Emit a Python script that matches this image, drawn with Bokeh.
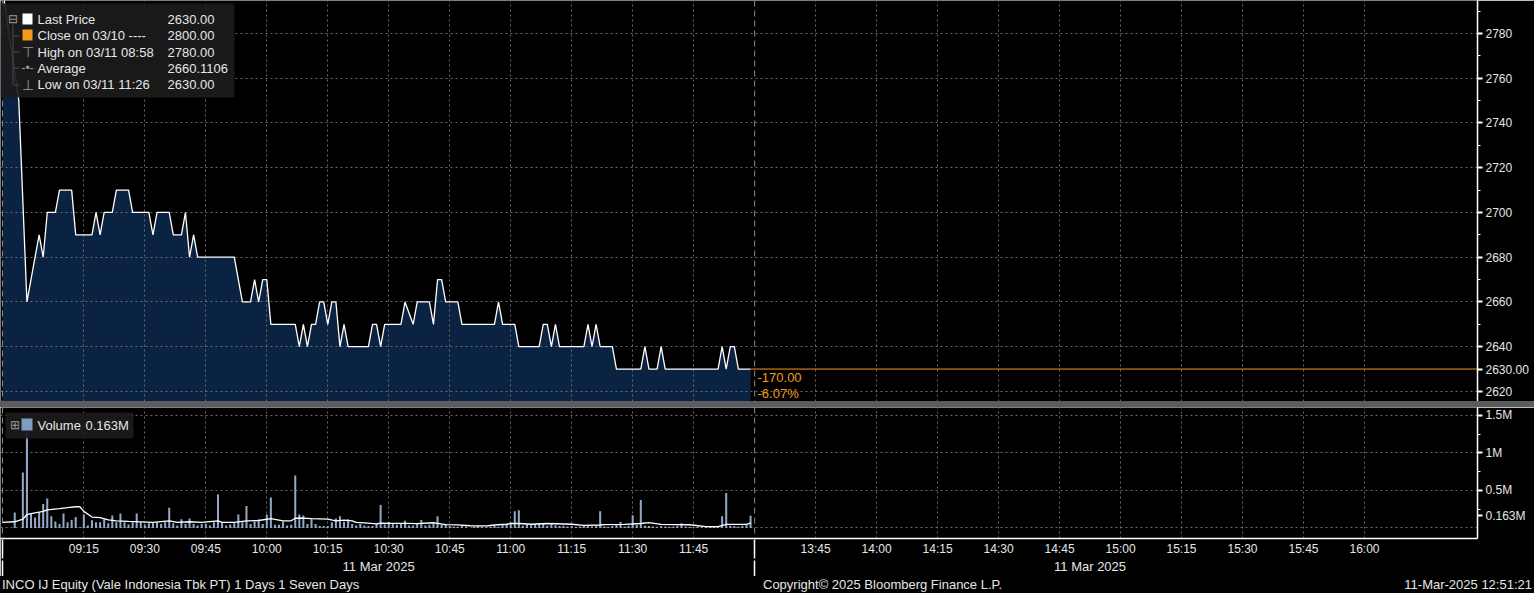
from bokeh.plotting import figure
from bokeh.models import Range1d, FixedTicker, Label, BoxAnnotation, Span, Div, LinearAxis
from bokeh.layouts import column
from bokeh.embed import file_html
from bokeh.resources import INLINE

FONT = "Liberation Sans"

# ---------------- data ----------------
PRICE_TIMES = ["08:55", "08:59", "09:01", "09:02", "09:03", "09:04", "09:05", "09:06", "09:08", "09:09",
               "09:12", "09:13", "09:17", "09:18", "09:19", "09:20", "09:22", "09:23", "09:26", "09:27",
               "09:31", "09:32", "09:33", "09:36", "09:37", "09:39", "09:40", "09:41", "09:42", "09:43",
               "09:52", "09:53", "09:54", "09:56", "09:57", "09:58", "09:59", "10:00", "10:01", "10:07",
               "10:08", "10:09", "10:10", "10:11", "10:12", "10:13", "10:14", "10:15", "10:16", "10:17",
               "10:18", "10:19", "10:20", "10:25", "10:26", "10:27", "10:28", "10:29", "10:33", "10:34",
               "10:36", "10:37", "10:40", "10:41", "10:42", "10:43", "10:44", "10:47", "10:48", "10:56",
               "10:57", "10:58", "11:01", "11:02", "11:07", "11:08", "11:09", "11:10", "11:11", "11:12",
               "11:18", "11:19", "11:20", "11:21", "11:22", "11:25", "11:26", "11:32", "11:33", "11:34",
               "11:36", "11:37", "11:38", "11:51", "11:52", "11:53", "11:54", "11:55", "11:56", "11:59"]
PRICE_VALUES = [2800, 2750, 2660, 2670, 2680, 2690, 2680, 2700, 2700, 2710,
                2710, 2690, 2690, 2700, 2690, 2700, 2700, 2710, 2710, 2700,
                2700, 2690, 2700, 2700, 2690, 2690, 2700, 2680, 2690, 2680,
                2680, 2670, 2660, 2660, 2670, 2660, 2670, 2670, 2650, 2650,
                2640, 2650, 2640, 2650, 2650, 2660, 2660, 2650, 2660, 2660,
                2640, 2650, 2640, 2640, 2650, 2650, 2640, 2650, 2650, 2660,
                2650, 2660, 2660, 2650, 2670, 2670, 2660, 2660, 2650, 2650,
                2660, 2650, 2650, 2640, 2640, 2650, 2650, 2640, 2650, 2640,
                2640, 2650, 2640, 2650, 2640, 2640, 2630, 2630, 2640, 2630,
                2630, 2640, 2630, 2630, 2640, 2630, 2640, 2640, 2630, 2630]

VOLUME_FIRST_MINUTE = "08:58"
VOLUME_K = [205, 0, 740, 1420, 190, 140, 210, 318, 392, 158,
            88, 54, 192, 75, 108, 146, 10, 180, 33, 104,
            75, 75, 117, 63, 167, 75, 192, 75, 46, 75,
            192, 75, 46, 63, 75, 75, 54, 75, 270, 63,
            33, 117, 54, 125, 54, 33, 54, 54, 33, 75,
            445, 75, 33, 46, 63, 180, 75, 293, 54, 85,
            112, 54, 179, 407, 42, 42, 83, 33, 42, 698,
            179, 165, 54, 117, 54, 25, 25, 25, 75, 125,
            158, 83, 117, 54, 33, 54, 33, 25, 25, 54,
            306, 45, 80, 54, 42, 54, 95, 33, 33, 54,
            107, 33, 42, 54, 158, 42, 52, 25, 20, 15,
            25, 20, 0, 15, 25, 20, 15, 20, 25, 15,
            38, 54, 74, 222, 235, 30, 51, 35, 51, 60,
            60, 30, 51, 38, 25, 30, 20, 25, 15, 20,
            25, 30, 20, 25, 222, 20, 15, 25, 51, 81,
            20, 30, 171, 40, 372, 30, 25, 20, 15, 25,
            20, 15, 20, 25, 64, 20, 15, 10, 15, 10,
            15, 20, 15, 25, 158, 466, 30, 25, 20, 30,
            35, 163]

MA_TIMES = ["08:55", "08:58", "09:00", "09:01", "09:02", "09:05", "09:06", "09:09", "09:11", "09:13",
            "09:14", "09:15", "09:17", "09:19", "09:21", "09:23", "09:26", "09:32", "09:36", "09:38",
            "09:41", "09:44", "09:48", "09:49", "09:52", "09:55", "09:58", "10:01", "10:04", "10:06",
            "10:07", "10:08", "10:11", "10:15", "10:17", "10:19", "10:21", "10:22", "10:24", "10:27",
            "10:28", "10:31", "10:34", "10:37", "10:41", "10:42", "10:44", "10:47", "10:50", "10:54",
            "10:56", "10:59", "11:00", "11:02", "11:05", "11:09", "11:15", "11:18", "11:22", "11:23",
            "11:28", "11:32", "11:34", "11:37", "11:44", "11:48", "11:51", "11:53", "11:58", "11:59"]
MA_K = [75, 83, 117, 179, 192, 221, 242, 258, 271, 283,
        283, 221, 146, 138, 108, 96, 88, 75, 96, 75,
        83, 75, 96, 75, 75, 96, 100, 125, 96, 96,
        129, 133, 125, 117, 96, 104, 96, 75, 67, 54,
        64, 62, 62, 58, 70, 62, 45, 42, 30, 28,
        40, 50, 60, 60, 50, 60, 50, 35, 40, 45,
        48, 60, 72, 47, 43, 17, 17, 47, 47, 65]

X_TICK_LABELS = ["09:15", "09:30", "09:45", "10:00", "10:15", "10:30", "10:45", "11:00", "11:15",
                 "11:30", "11:45", "13:45", "14:00", "14:15", "14:30", "14:45", "15:00", "15:15",
                 "15:30", "15:45", "16:00"]
SESSION_LINES = ["08:55", "12:00"]
DATE_LABEL = "11 Mar 2025"
DATE_SPANS = [("08:55", "12:00"), ("13:30", "16:15")]
PRICE_TICKS = [2620, 2640, 2660, 2680, 2700, 2720, 2740, 2760, 2780]
VOL_TICKS = [500000, 1000000, 1500000]
VOL_TICK_LABELS = ["0.5M", "1M", "1.5M"]

LAST_PRICE = 2630.00
PREV_CLOSE = 2800.00
HIGH_PRICE = 2780.00
AVERAGE_PRICE = 2660.1106
LOW_PRICE = 2630.00
LAST_VOLUME = 163000
LAST_VOLUME_TEXT = "0.163M"

FOOTER_LEFT = "INCO IJ Equity (Vale Indonesia Tbk PT) 1 Days 1 Seven Days"
FOOTER_MID = "Copyright\u00a9 2025 Bloomberg Finance L.P."
FOOTER_RIGHT = "11-Mar-2025 12:51:21"

# ---------------- styling / layout (pixels of the 1534x593 page) ----------------
W = 1534
RIGHT = 57
P_H = 401
SEP_H = 6
V_FRAME = 133
V_BOTTOM = 36
V_H = V_FRAME + V_BOTTOM
F_H = 593 - P_H - SEP_H - V_H
V_TOP = P_H + SEP_H

BG = "#000000"
AREA = "#0b2342"
GRID = "#6a6a6a"
TXT = "#e6e6e6"
ORANGE = "#f39a1f"
VOLC = "#93a7c8"
GRAYICON = "#9a9a9a"
LEG_BG = "#1b1b1b"


def tx(hhmm):
    h, m = (int(v) for v in hhmm.split(":"))
    t = h * 60 + m
    if t >= 13 * 60 + 30:
        t -= 90          # lunch break compressed out of the axis
    return t - 540


x_range = Range1d(-5.5, 357.8)
xticks = [tx(t) for t in X_TICK_LABELS]
session_x = [tx(t) for t in SESSION_LINES]


def style_axis_text(ax, size="12px"):
    ax.major_label_text_color = TXT
    ax.major_label_text_font = FONT
    ax.major_label_text_font_size = size


def base_fig(height, y_range, xloc, bottom):
    f = figure(width=W, height=height, x_range=x_range, y_range=y_range,
               output_backend="svg", toolbar_location=None,
               x_axis_location=xloc, y_axis_location="right",
               min_border_left=0, min_border_right=RIGHT, min_border_top=0,
               min_border_bottom=bottom,
               background_fill_color=BG, border_fill_color=BG,
               outline_line_color=None)
    f.xgrid.ticker = FixedTicker(ticks=xticks)
    for g in (f.xgrid, f.ygrid):
        g.grid_line_color = GRID
        g.grid_line_dash = "2 3"
        g.grid_line_width = 1
    ax = f.yaxis[0]
    ax.axis_line_color = "#ffffff"
    ax.axis_line_width = 1.5
    ax.major_tick_line_color = "#ffffff"
    ax.major_tick_line_width = 2
    ax.major_tick_out = 5
    ax.major_tick_in = 0
    ax.minor_tick_line_color = "#ffffff"
    ax.minor_tick_out = 3
    ax.minor_tick_in = 0
    ax.major_label_standoff = 3
    style_axis_text(ax)
    for loc in session_x:
        f.add_layout(Span(location=loc, dimension="height", line_color="#8c8c8c",
                          line_dash="6 4", line_width=1))
    return f


def lab(fig, text, x, y, frame_bottom, color=TXT, size="13px", align="left", **kw):
    fig.add_layout(Label(x=x, y=frame_bottom - y, x_units="screen", y_units="screen",
                         text=text, text_color=color, text_font=FONT, text_font_size=size,
                         text_align=align, text_baseline="middle", **kw))


def box(fig, x0, y0, x1, y1, frame_bottom, color, alpha=1.0):
    fig.add_layout(BoxAnnotation(left=x0, right=x1, top=frame_bottom - y0, bottom=frame_bottom - y1,
                                 left_units="screen", right_units="screen",
                                 top_units="screen", bottom_units="screen",
                                 fill_color=color, fill_alpha=alpha, line_color=None))


# ---------------- price panel ----------------
p = base_fig(P_H, Range1d(2615.5, 2794.75), None, 0)
p.yaxis.ticker = FixedTicker(ticks=PRICE_TICKS + [LAST_PRICE],
                             minor_ticks=[t + 10 for t in PRICE_TICKS])
p.yaxis.major_label_overrides = {LAST_PRICE: f"{LAST_PRICE:.2f}"}
p.ygrid.ticker = FixedTicker(ticks=PRICE_TICKS)

px = [tx(t) for t in PRICE_TIMES]
area = p.varea(x=px, y1=p.y_range.start, y2=PRICE_VALUES, fill_color=AREA)
area.level = "image"
p.line(px, PRICE_VALUES, line_color="#ffffff", line_width=1.3)
p.segment(x0=[px[-1]], y0=[LAST_PRICE], x1=[x_range.end], y1=[LAST_PRICE],
          line_color=ORANGE, line_width=1)

chg = LAST_PRICE - PREV_CLOSE
pct = chg / PREV_CLOSE * 100
lab(p, f"{chg:.2f}", 757, 377, P_H, color=ORANGE)
lab(p, f"{pct:.2f}%", 757, 393, P_H, color=ORANGE)

# legend
box(p, 0, 3, 234, 97, P_H, LEG_BG, 0.92)
box(p, 12, 24, 13, 84, P_H, "#4a4a4a")
for yb in (35, 51, 67, 84):
    box(p, 13, yb, 19, yb + 1, P_H, "#4a4a4a")
lab(p, "\u229f", 12, 18, P_H, color=GRAYICON, size="12px", align="center")
box(p, 22, 13, 32, 24, P_H, "#ffffff")
box(p, 22, 29, 32, 40, P_H, ORANGE)
lab(p, "\u22a4", 27, 51, P_H, color=GRAYICON, size="14px", align="center")
lab(p, "-\u2022-", 27, 67, P_H, color=GRAYICON, size="12px", align="center")
lab(p, "\u22a5", 27, 84, P_H, color=GRAYICON, size="14px", align="center")
rows = [("Last Price", f"{LAST_PRICE:.2f}"),
        ("Close on 03/10 ----", f"{PREV_CLOSE:.2f}"),
        ("High on 03/11 08:58", f"{HIGH_PRICE:.2f}"),
        ("Average", f"{AVERAGE_PRICE:.4f}"),
        ("Low on 03/11 11:26", f"{LOW_PRICE:.2f}")]
for i, (name, val) in enumerate(rows):
    ry = 19 + i * 16.25
    lab(p, name, 37, ry, P_H)
    lab(p, val, 167, ry, P_H)

# ---------------- separator ----------------
sep = Div(text="", width=W, height=SEP_H, margin=0,
          styles={"background-color": "#5c5c5c"})

# ---------------- volume panel ----------------
v = base_fig(V_H, Range1d(-140000, 1605000), "below", V_BOTTOM)
v.yaxis.ticker = FixedTicker(ticks=VOL_TICKS + [LAST_VOLUME],
                             minor_ticks=[t - 250000 for t in VOL_TICKS])
v.yaxis.major_label_overrides = {**{t: s for t, s in zip(VOL_TICKS, VOL_TICK_LABELS)},
                                 LAST_VOLUME: LAST_VOLUME_TEXT}
v.ygrid.ticker = FixedTicker(ticks=[0] + VOL_TICKS)

xa = v.xaxis[0]
xa.ticker = FixedTicker(ticks=xticks)
xa.major_label_overrides = {tx(t): t for t in X_TICK_LABELS}
xa.axis_line_color = "#ffffff"
xa.axis_line_width = 1.5
xa.major_tick_out = 0
xa.major_tick_in = 0
xa.minor_tick_out = 0
xa.minor_tick_in = 0
xa.minor_tick_line_color = None
xa.major_label_standoff = 3
style_axis_text(xa)

# second row of the time axis: the date; its minor ticks reach up through the first row
date_pos = [(tx(a) + tx(b)) / 2 for a, b in DATE_SPANS]
da = LinearAxis(ticker=FixedTicker(ticks=date_pos, minor_ticks=session_x),
                major_label_overrides={d: DATE_LABEL for d in date_pos},
                axis_line_color=None, major_tick_line_color=None,
                minor_tick_line_color="#ffffff", minor_tick_line_width=1.5,
                minor_tick_in=19, minor_tick_out=0,
                major_tick_out=0, major_tick_in=0, major_label_standoff=0)
style_axis_text(da, "13px")
v.add_layout(da, "below")

# third (label-less) row: continues the session ticks through the date row
sa = LinearAxis(ticker=FixedTicker(ticks=[], minor_ticks=session_x),
                axis_line_color=None, major_tick_line_color=None,
                minor_tick_line_color="#ffffff", minor_tick_line_width=1.5,
                minor_tick_in=16, minor_tick_out=0,
                major_tick_out=0, major_tick_in=0, major_label_standoff=0)
v.add_layout(sa, "below")

v0 = tx(VOLUME_FIRST_MINUTE)
vx = [v0 + i for i in range(len(VOLUME_K))]
v.vbar(x=vx, top=[k * 1000 for k in VOLUME_K], bottom=0, width=0.5,
       fill_color=VOLC, line_color=None)
v.line([tx(t) for t in MA_TIMES], [k * 1000 for k in MA_K], line_color="#ffffff", line_width=1.3)

VFB = V_TOP + V_FRAME   # page y of the volume frame bottom
box(v, 5, 414, 133, 440, VFB, LEG_BG, 0.92)
lab(v, "\u229e", 14, 426, VFB, color=GRAYICON, size="12px", align="center")
box(v, 21, 420, 32, 432, VFB, "#7f9cc4")
lab(v, "Volume", 37, 427, VFB)
lab(v, LAST_VOLUME_TEXT, 85, 427, VFB)

# ---------------- footer ----------------
span_css = f"position:absolute;top:0px;line-height:{F_H}px;white-space:nowrap;"
footer_html = (
    f'<div style="position:relative;width:{W}px;height:{F_H}px;background:#000;'
    f'color:{TXT};font-family:\'{FONT}\';font-size:13px;overflow:hidden;">'
    f'<span style="{span_css}left:2px;">{FOOTER_LEFT}</span>'
    f'<span style="{span_css}left:763px;">{FOOTER_MID}</span>'
    f'<span style="{span_css}right:2px;">{FOOTER_RIGHT}</span>'
    f'</div>'
)
foot = Div(text=footer_html, width=W, height=F_H, margin=0,
           styles={"background-color": "#000000"})

layout = column(p, sep, v, foot, spacing=0)
open("out.html", "w").write(file_html(layout, INLINE))
